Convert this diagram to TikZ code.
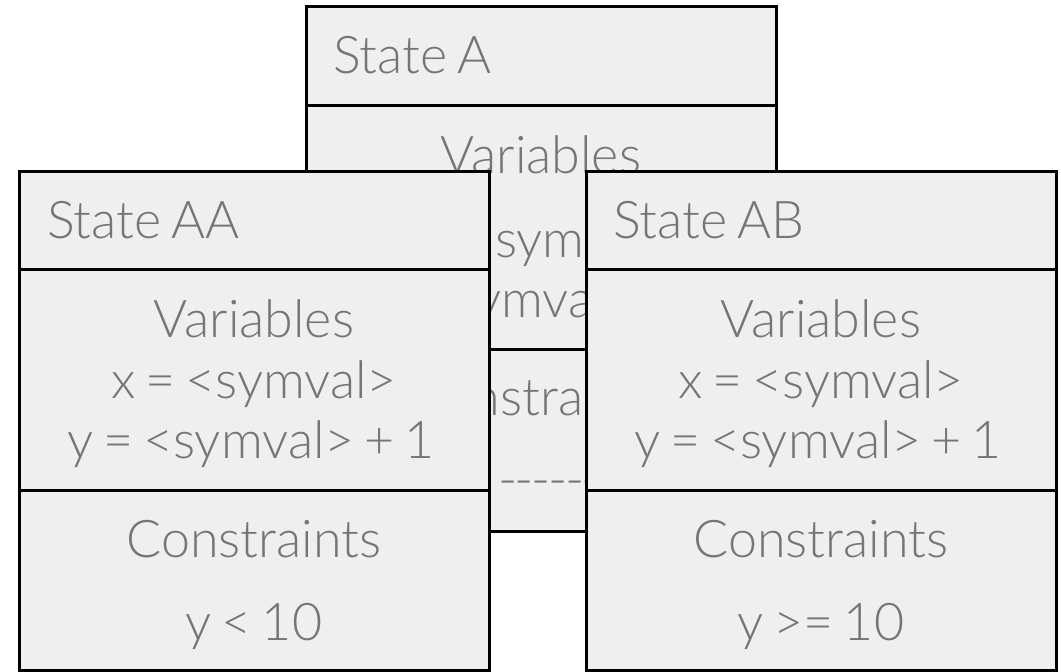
\documentclass[tikz,border=0pt]{standalone}
\usepackage{fontspec}
\setmainfont{Lato}[UprightFont=* Light, WordSpace=0.7]
\definecolor{boxfill}{RGB}{239,239,239}
\definecolor{txtgray}{RGB}{117,117,120}
% hyphens set a little closer than their natural advance
\newcommand{\tightdash}{-\kern-2.5pt}
\begin{document}
\begin{tikzpicture}[x=1pt,y=-1pt,
  panel/.style={draw=black, line width=3pt, fill=boxfill, inner sep=0pt,
                outer sep=0pt, anchor=north west, minimum width=470pt},
  lbl/.style={text=txtgray, font=\fontsize{52}{60}\selectfont, inner sep=0pt, anchor=base},
  heading/.style={lbl, anchor=base west}]
\useasboundingbox (0,0) rectangle (1061,672);

% ---- State A (behind) ----
\node[panel, minimum height=99pt]  (aHead) at (306,6)   {};
\node[panel, minimum height=244pt] (aVars) at (306,105) {};
\node[panel, minimum height=182pt] (aCons) at (306,349) {};
\node[heading] (aTitle)   at (333,73)  {State A};
\node[lbl]     (aVarsHd)  at (541,173) {Variables};
\node[heading] (aX)       at (495,257) {\llap{x = <}symval>};
\node[heading] (aY)       at (501,317) {\llap{y = <sy}mval> + 1};
\node[heading] (aConsHd)  at (500,415) {\llap{Con}straints};
\node[heading] (aConsVal) at (498,497) {\tightdash\tightdash\tightdash\tightdash\tightdash\tightdash-};

% ---- State AA (front left) ----
\node[panel, minimum height=98pt]    (aaHead) at (19,171) {};
\node[panel, minimum height=221pt]   (aaVars) at (19,269) {};
\node[panel, minimum height=180.5pt] (aaCons) at (19,490) {};
\node[heading] (aaTitle)   at (47,238)  {State AA};
\node[lbl]     (aaVarsHd)  at (254,337) {Variables};
\node[lbl]     (aaX)       at (254,398) {x = <symval>};
\node[lbl]     (aaY)       at (251,458) {y = <symval> + 1};
\node[lbl]     (aaConsHd)  at (254,557) {Constraints};
\node[lbl]     (aaConsVal) at (254,640) {y < 10};

% ---- State AB (front right) ----
\node[panel, minimum height=98pt]    (abHead) at (586,171) {};
\node[panel, minimum height=221pt]   (abVars) at (586,269) {};
\node[panel, minimum height=180.5pt] (abCons) at (586,490) {};
\node[heading] (abTitle)   at (613,238) {State AB};
\node[lbl]     (abVarsHd)  at (821,337) {Variables};
\node[lbl]     (abX)       at (821,398) {x = <symval>};
\node[lbl]     (abY)       at (818,458) {y = <symval> + 1};
\node[lbl]     (abConsHd)  at (821,557) {Constraints};
\node[lbl]     (abConsVal) at (821,640) {y >= 10};
\end{tikzpicture}
\end{document}
